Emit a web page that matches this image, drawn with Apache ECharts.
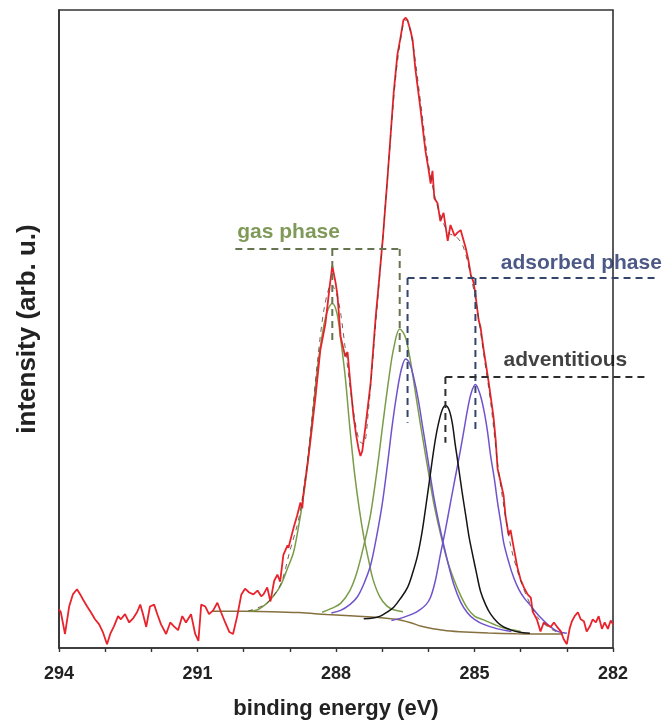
<!DOCTYPE html>
<html><head><meta charset="utf-8">
<script src="https://cdn.jsdelivr.net/npm/echarts@6/dist/echarts.min.js"></script>
<style>html,body{margin:0;padding:0;background:#fff}#c{width:670px;height:725px}</style>
</head><body><div id="c"></div>
<script>
// ---- data (binding energy eV, intensity arb. u. 0-100) ----
const xTickLabels = [294, 291, 288, 285, 282];

const spectrum = [
[294.00,6.1],[293.96,5.6],[293.87,2.2],[293.78,6.5],[293.70,8.4],[293.61,9.2],[293.54,8.4],[293.48,7.6],[293.39,6.5],[293.31,5.6],
[293.22,4.5],[293.13,3.7],[293.05,2.5],[292.96,0.6],[292.89,2.2],[292.81,3.4],[292.72,5.0],[292.66,4.5],[292.57,5.3],[292.48,4.0],
[292.39,4.7],[292.31,5.6],[292.24,6.8],[292.18,5.3],[292.11,3.3],[292.03,6.5],[291.94,6.8],[291.87,5.3],[291.79,3.7],[291.68,2.2],
[291.59,4.0],[291.51,3.4],[291.42,2.8],[291.33,5.0],[291.25,4.0],[291.14,5.3],[291.05,2.2],[290.98,1.1],[290.92,6.8],[290.83,6.5],
[290.75,5.3],[290.66,5.9],[290.57,7.1],[290.49,5.6],[290.40,4.0],[290.31,2.5],[290.23,2.2],[290.14,5.0],[290.05,8.4],[289.97,9.3],
[289.88,8.7],[289.79,8.4],[289.70,9.0],[289.62,8.1],[289.57,8.4],[289.49,9.5],[289.42,7.3],[289.34,10.5],[289.27,11.5],[289.21,10.4],
[289.14,14.6],[289.05,16.1],[289.03,15.7],[288.92,18.8],[288.84,20.8],[288.77,22.8],[288.73,21.9],[288.71,23.9],[288.62,28.6],[288.56,32.1],
[288.45,39.0],[288.34,46.7],[288.23,50.8],[288.14,56.5],[288.08,59.9],[288.01,57.3],[287.97,55.4],[287.90,48.8],[287.84,46.9],[287.80,45.7],
[287.75,46.4],[287.69,41.5],[287.62,36.3],[287.56,33.2],[287.51,31.2],[287.47,30.1],[287.43,30.9],[287.36,34.8],[287.25,41.5],[287.14,51.9],
[287.10,55.0],[286.99,63.8],[286.88,74.1],[286.75,87.1],[286.67,93.0],[286.60,95.8],[286.54,98.4],[286.49,98.8],[286.45,98.4],[286.39,96.9],
[286.34,95.3],[286.28,90.7],[286.17,84.5],[286.06,77.8],[286.00,75.2],[285.95,72.8],[285.91,74.8],[285.87,70.5],[285.80,69.7],[285.74,66.9],
[285.67,68.2],[285.58,63.8],[285.52,66.3],[285.43,64.6],[285.37,65.1],[285.30,65.5],[285.26,65.8],[285.19,62.7],[285.13,60.7],[285.08,58.5],
[285.02,57.3],[284.98,55.4],[284.91,51.4],[284.87,50.3],[284.80,46.7],[284.69,41.5],[284.59,36.3],[284.54,32.5],[284.50,28.1],[284.43,25.9],
[284.37,23.9],[284.33,20.8],[284.26,17.7],[284.22,18.5],[284.15,15.7],[284.07,12.6],[284.00,10.7],[283.93,9.5],[283.85,8.4],[283.78,7.9],
[283.74,5.7],[283.65,4.5],[283.57,2.6],[283.50,4.0],[283.44,3.7],[283.35,3.3],[283.28,4.0],[283.22,3.4],[283.13,2.6],[283.07,1.4],
[283.00,0.6],[282.94,3.0],[282.89,4.2],[282.83,5.0],[282.76,5.6],[282.70,4.5],[282.63,4.2],[282.57,2.6],[282.50,3.4],[282.44,4.5],
[282.37,4.0],[282.31,5.0],[282.24,3.0],[282.18,4.0],[282.11,3.0],[282.05,4.3],[282.00,3.7]
];

const envelope = [
[289.90,5.8],[289.50,7.0],[289.20,10.0],[289.00,15.2],[288.80,20.5],[288.60,30.5],[288.40,45.0],[288.25,53.5],[288.10,57.0],[287.95,54.5],
[287.80,47.0],[287.65,38.5],[287.50,32.5],[287.40,32.0],[287.30,37.0],[287.15,50.0],[287.00,63.0],[286.85,77.0],[286.70,90.0],[286.55,97.5],
[286.48,98.5],[286.40,97.0],[286.30,93.0],[286.15,84.5],[286.00,76.0],[285.85,70.5],[285.70,67.0],[285.55,65.0],[285.40,64.5],[285.25,63.0],
[285.10,59.0],[284.95,53.5],[284.80,46.0],[284.65,38.5],[284.50,29.0],[284.35,21.5],[284.20,15.5],[284.00,10.5],[283.80,7.0],[283.60,4.5],
[283.30,2.8],[283.10,2.3]
];

const gasPeak1 = [
[289.90,5.8],[289.70,6.0],[289.50,7.0],[289.35,8.2],[289.20,9.8],[289.05,12.5],[288.92,15.0],[288.80,19.5],[288.70,24.0],[288.60,30.0],
[288.50,37.0],[288.40,44.0],[288.30,49.0],[288.20,52.5],[288.08,54.0],[287.98,52.5],[287.90,48.5],[287.80,42.5],[287.70,34.5],[287.60,27.5],
[287.50,22.0],[287.40,17.5],[287.30,14.0],[287.20,10.8],[287.05,8.0],[286.90,6.6],[286.75,6.0],[286.55,5.7]
];

const gasPeak2 = [
[288.30,5.6],[288.10,6.2],[287.90,7.0],[287.70,9.0],[287.55,11.8],[287.40,16.0],[287.25,21.0],[287.10,28.5],[286.97,36.0],[286.85,42.5],
[286.75,47.0],[286.62,50.0],[286.50,48.8],[286.40,45.5],[286.30,41.0],[286.17,35.0],[286.02,28.5],[285.89,23.0],[285.74,18.0],[285.60,14.0],
[285.45,10.8],[285.30,8.2],[285.15,6.2],[285.00,5.0],[284.80,4.4],[284.40,3.2],[284.00,2.6]
];

const adsorbedPeak1 = [
[288.10,5.5],[287.90,5.9],[287.70,6.8],[287.54,8.0],[287.40,10.0],[287.25,13.0],[287.12,17.5],[287.00,22.5],[286.89,28.5],[286.78,35.0],
[286.68,40.0],[286.58,43.8],[286.49,45.3],[286.40,44.5],[286.32,42.5],[286.22,39.0],[286.12,34.5],[286.02,30.0],[285.89,24.0],[285.74,18.5],
[285.58,13.5],[285.45,10.0],[285.30,7.2],[285.15,5.5],[285.00,4.5],[284.80,3.7],[284.50,3.0],[284.20,2.6]
];

const adventitiousPeak = [
[287.40,4.6],[287.20,4.7],[287.04,5.0],[286.90,5.6],[286.75,6.4],[286.60,7.8],[286.45,9.5],[286.33,12.0],[286.23,14.6],[286.14,18.0],
[286.06,21.9],[285.98,26.0],[285.91,29.7],[285.84,33.0],[285.78,35.2],[285.70,37.3],[285.63,38.0],[285.55,37.3],[285.48,35.2],[285.42,32.0],
[285.35,28.6],[285.27,24.5],[285.19,20.8],[285.12,17.5],[285.04,14.6],[284.95,11.5],[284.87,8.9],[284.76,6.8],[284.65,5.3],[284.50,4.0],
[284.37,3.3],[284.20,2.8],[284.05,2.5],[283.80,2.3]
];

const adsorbedPeak2 = [
[286.80,4.3],[286.54,4.8],[286.35,5.3],[286.20,5.9],[286.05,6.8],[285.95,8.0],[285.85,10.5],[285.74,14.6],[285.63,18.5],[285.52,22.8],
[285.41,27.0],[285.30,31.2],[285.22,34.5],[285.15,37.4],[285.07,40.0],[284.98,41.3],[284.89,40.0],[284.80,37.4],[284.72,34.0],[284.65,30.1],
[284.57,26.5],[284.50,22.8],[284.43,19.6],[284.37,16.6],[284.26,13.5],[284.15,11.0],[284.04,9.2],[283.93,7.9],[283.78,6.6],[283.60,5.0],
[283.40,3.6],[283.20,2.6],[283.00,2.3]
];

const background = [
[290.68,5.75],[290.00,5.75],[289.40,5.7],[288.80,5.55],[288.20,5.25],[287.60,5.0],[287.10,4.8],[286.70,4.5],[286.40,4.0],[286.15,3.4],
[285.90,3.0],[285.60,2.7],[285.20,2.5],[284.70,2.35],[284.10,2.25],[283.40,2.2],[283.10,2.2]
];

// annotation brackets (energy, intensity); they run past the right frame
const gasPhaseLines = [[[290.18,62.9],[286.62,62.9]], [[288.08,62.9],[288.08,48.3]], [[286.62,62.9],[286.62,46.1]]];
const adsorbedLines = [[[286.45,58.4],[281.03,58.4]], [[286.45,58.4],[286.45,35.9]], [[284.98,58.4],[284.98,34.8]]];
const adventitiousLines = [[[285.63,43.0],[281.22,43.0]], [[285.63,43.0],[285.63,32.8]]];
const annotationLabels = [
  {name:'gas phase', value:[290.14,65.5], color:'#5f7f30'},
  {name:'adsorbed phase', value:[284.43,60.7], color:'#1f3068'},
  {name:'adventitious', value:[284.37,45.6], color:'#111111'}
];

// ---- chart ----
const FONT = '"Liberation Sans", Arial, sans-serif';
const X_MIN = 282, X_MAX = 294;
const GRID_L = 59, GRID_R = 57, GRID_T = 10, GRID_B = 71, CHART_W = 670;
// overlay grid for annotations: same eV-per-pixel scale, extended to the right
const plotW = CHART_W - GRID_L - GRID_R;
const overlayR = 13;
const overlayMin = X_MAX - (CHART_W - GRID_L - overlayR) * (X_MAX - X_MIN) / plotW;

const chart = echarts.init(document.getElementById('c'), null, {renderer:'canvas'});
const series = [];
function comp(data, color, z){
  series.push({type:'line', data, smooth:0.35, showSymbol:false, symbol:'none', z,
    lineStyle:{color, width:1.5}, animation:false});
}
comp(background, '#85703e', 2);
comp(gasPeak1, '#7a9c48', 3);
comp(gasPeak2, '#7a9c48', 3);
comp(adsorbedPeak1, '#7053cc', 3);
comp(adsorbedPeak2, '#7053cc', 3);
comp(adventitiousPeak, '#151515', 3);
series.push({type:'line', data:spectrum, showSymbol:false, symbol:'none', z:5,
  lineStyle:{color:'#e8232b', width:1.8}, animation:false});
series.push({type:'line', data:envelope, smooth:0.3, showSymbol:false, symbol:'none', z:6,
  lineStyle:{color:'#5a3b30', width:1, type:[5,5], opacity:0.8}, animation:false});
function bracket(segs, color){
  segs.forEach(s => series.push({type:'line', data:s, xAxisIndex:1, yAxisIndex:1, clip:false,
    showSymbol:false, symbol:'none', z:7, lineStyle:{color, width:2, type:[7,5]}, animation:false}));
}
bracket(gasPhaseLines, '#66754f');
bracket(adsorbedLines, '#34456a');
bracket(adventitiousLines, '#2e2e2e');
series.push({type:'scatter', xAxisIndex:1, yAxisIndex:1, symbolSize:0, clip:false, z:8, animation:false,
  data: annotationLabels.map(a => ({name:a.name, value:a.value,
    label:{show:true, position:'right', distance:0, formatter:'{b}', color:a.color,
      fontFamily:FONT, fontWeight:'bold', fontSize:21, verticalAlign:'middle', align:'left'}}))
});

chart.setOption({
  backgroundColor:'#fff',
  animation:false,
  grid:[
    {left:GRID_L, right:GRID_R, top:GRID_T, bottom:GRID_B, show:true, borderColor:'#333', borderWidth:1.6, containLabel:false},
    {left:GRID_L, right:overlayR, top:GRID_T, bottom:GRID_B, show:false, containLabel:false}
  ],
  xAxis:[{type:'value', gridIndex:0, min:X_MIN, max:X_MAX, interval:1, inverse:true,
    axisLine:{show:true, onZero:false, lineStyle:{color:'#333', width:1.6}},
    axisTick:{show:true, length:4, lineStyle:{color:'#333', width:1.4}},
    splitLine:{show:false},
    axisLabel:{margin:17, fontFamily:FONT, fontWeight:'bold', fontSize:18, color:'#222',
      formatter: v => xTickLabels.includes(v) ? String(v) : ''},
    name:'binding energy (eV)', nameLocation:'middle', nameGap:50,
    nameTextStyle:{fontFamily:FONT, fontWeight:'bold', fontSize:22, color:'#222'}
  },{type:'value', gridIndex:1, min:overlayMin, max:X_MAX, inverse:true, show:false}],
  yAxis:[{type:'value', gridIndex:0, min:0, max:100,
    axisLine:{show:true, onZero:false, lineStyle:{color:'#333', width:1.6}},
    axisTick:{show:false}, axisLabel:{show:false}, splitLine:{show:false},
    name:'intensity (arb. u.)', nameLocation:'middle', nameGap:18, nameRotate:90,
    nameTextStyle:{fontFamily:FONT, fontWeight:'bold', fontSize:26, color:'#222'}
  },{type:'value', gridIndex:1, min:0, max:100, show:false}],
  series
});
</script></body></html>
